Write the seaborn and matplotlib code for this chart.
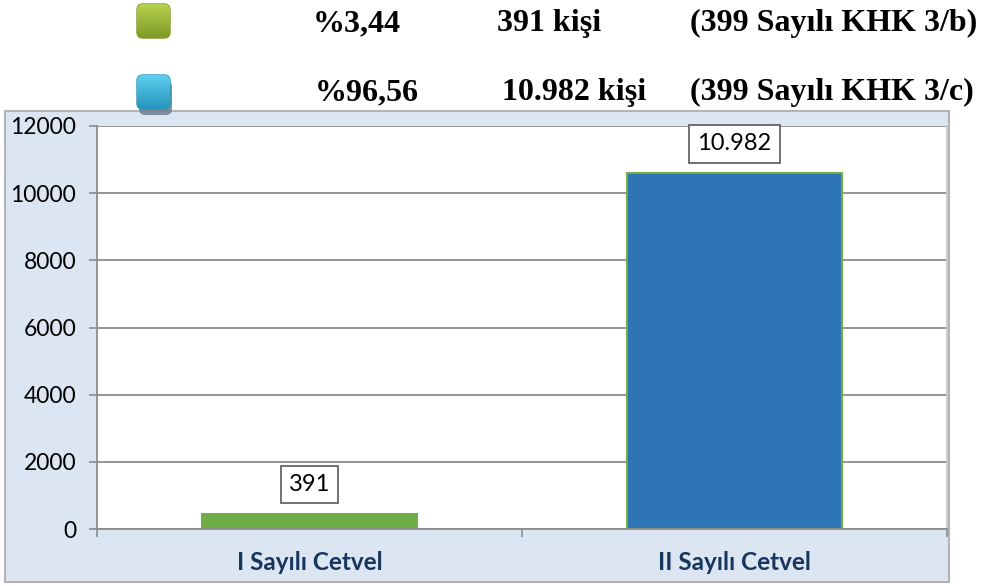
import matplotlib
matplotlib.use("Agg")
import matplotlib.pyplot as plt
import seaborn as sns
import pandas as pd
import numpy as np
from matplotlib.patches import Rectangle, FancyBboxPatch
from matplotlib.colors import LinearSegmentedColormap

# ---- data ----
categories = ["I Sayılı Cetvel", "II Sayılı Cetvel"]
bar_values = [450, 10600]
value_labels = ["391", "10.982"]
bar_colors = ["#70ad47", "#2e75b6"]
y_ticks = [0, 2000, 4000, 6000, 8000, 10000, 12000]
legend_pct = ["%3,44", "%96,56"]
legend_count = ["391 kişi", "10.982 kişi"]
legend_ref = ["(399 Sayılı KHK 3/b)", "(399 Sayılı KHK 3/c)"]
icon_light = ["#b5d24f", "#5fd0ef"]
icon_dark = ["#7f9a25", "#2595bb"]

sns.set_style("white")
plt.rcParams['font.family'] = ['Lato', 'DejaVu Sans']

W, H = 983, 586
fig = plt.figure(figsize=(W / 100, H / 100), dpi=100)

# background / overlay axes in pixel units
bg = fig.add_axes([0, 0, 1, 1], zorder=0)
bg.set_xlim(0, W)
bg.set_ylim(H, 0)
bg.axis('off')
bg.add_patch(Rectangle((5, 111), 944, 471, facecolor="#dce6f2",
                       edgecolor="#b4b4b4", lw=1.5))

# icons
icon_x = [137, 137]
icon_y = [4, 75]
for i in range(2):
    x0, y0, w, h = icon_x[i], icon_y[i], 33, 34
    if i == 1:
        sh = FancyBboxPatch((x0 + 2, y0 + 6), w, h,
                            boxstyle="round,pad=0,rounding_size=6",
                            facecolor="#6d7f93", edgecolor="none", alpha=0.85)
        bg.add_patch(sh)
    p = FancyBboxPatch((x0, y0), w, h, boxstyle="round,pad=0,rounding_size=6",
                       facecolor=icon_light[i], edgecolor=icon_dark[i], lw=1)
    bg.add_patch(p)
    cmap = LinearSegmentedColormap.from_list("g", [icon_light[i], icon_dark[i]])
    grad = np.linspace(0, 1, 64).reshape(-1, 1)
    im = bg.imshow(grad, extent=(x0, x0 + w, y0 + h, y0), cmap=cmap,
                   aspect='auto', zorder=3)
    im.set_clip_path(p)
bg.set_xlim(0, W)
bg.set_ylim(H, 0)

# header texts
pct_x = [313, 315]
cnt_x = [497, 502]
ref_x = [690, 690]
base_y = [31, 100]
for i in range(2):
    for s, x in ((legend_pct[i], pct_x[i]), (legend_count[i], cnt_x[i]),
                 (legend_ref[i], ref_x[i])):
        bg.text(x, base_y[i], s, fontsize=23, fontweight='bold',
                family='Liberation Serif', va='baseline', ha='left',
                color='black')

# main chart
ax = fig.add_axes([97 / W, 1 - 529 / H, (947 - 97) / W, (529 - 126) / H], zorder=1)
df = pd.DataFrame({"cat": categories, "val": bar_values})
sns.barplot(data=df, x="cat", y="val", hue="cat", palette=bar_colors,
            legend=False, width=0.505, ax=ax, edgecolor="#70ad47",
            linewidth=1.5, saturation=1)
ax.set_facecolor("white")
ax.set_xlim(-0.5, 1.5)
ax.set_ylim(0, 12000)
ax.set_yticks(y_ticks)
ax.set_yticklabels([str(t) for t in y_ticks])
ax.set_xlabel("")
ax.set_ylabel("")
ax.yaxis.grid(True, color="#8c8c8c", lw=1.3)
ax.xaxis.grid(False)
ax.set_axisbelow(True)
for sp in ax.spines.values():
    sp.set_color("#8c8c8c")
    sp.set_linewidth(1.3)
ax.spines['top'].set_visible(False)
ax.spines['right'].set_color("#c8c8c8")

ax.tick_params(axis='y', which='major', length=6, width=1.2, color="#8c8c8c",
               direction='out', pad=9, labelsize=16.5, labelcolor='black', left=True)
ax.set_xticks([0, 1])
ax.set_xticklabels(categories, fontsize=17.5, fontweight='bold', color="#17365d")
ax.tick_params(axis='x', which='major', length=0, pad=16)
ax.set_xticks([-0.5, 0.5, 1.5], minor=True)
ax.tick_params(axis='x', which='minor', length=6, width=1.2, color="#8c8c8c",
               direction='out', bottom=True)

for i, (v, lab) in enumerate(zip(bar_values, value_labels)):
    ax.annotate(lab, (i, v), xytext=(0, 21), textcoords='offset points',
                ha='center', va='center', fontsize=17, color='black',
                bbox=dict(boxstyle='square,pad=0.35', fc='white',
                          ec='#595959', lw=1.2))

fig.savefig("out.png", dpi=100)
